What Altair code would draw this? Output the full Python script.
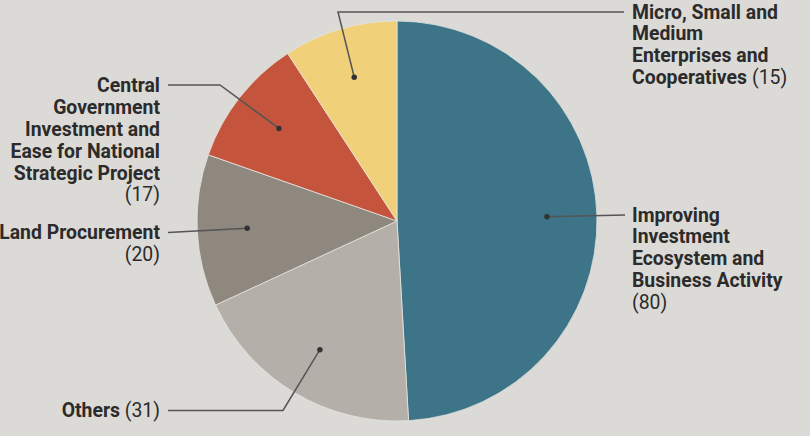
import math
import altair as alt
import pandas as pd

# ---- data ----
categories = [
    "Improving Investment Ecosystem and Business Activity",
    "Others",
    "Land Procurement",
    "Central Government Investment and Ease for National Strategic Project",
    "Micro, Small and Medium Enterprises and Cooperatives",
]
values = [80, 31, 20, 17, 15]
colors = ["#3d7487", "#b4afa9", "#8e887e", "#c4553c", "#f0d078"]
name_lines = [
    ["Improving", "Investment", "Ecosystem and", "Business Activity"],
    ["Others"],
    ["Land Procurement"],
    ["Central", "Government", "Investment and", "Ease for National", "Strategic Project"],
    ["Micro, Small and", "Medium", "Enterprises and", "Cooperatives"],
]

# ---- layout (pixels) ----
W, H = 810, 436
CX, CY, R = 397, 221, 200
DOT_R = 150
LH = 21.8
FS = 19.4
layout = [
    dict(side="right", ax=632, y0=221.5, val="own", elbow=None, end=(625, 215)),
    dict(side="left", ax=160, y0=416.5, val="same", name_x=120, elbow=(283, 410.5), end=(168, 410.5)),
    dict(side="left", ax=160, y0=239, val="own", elbow=None, end=(168, 232.5)),
    dict(side="left", ax=160, y0=92.3, val="own", elbow=(220, 85), end=(168, 85)),
    dict(side="right", ax=632, y0=18.5, val="same", value_x=752, elbow=(338, 12), end=(624, 12)),
]

total = sum(values)
pie_df = pd.DataFrame({"category": categories, "value": values, "idx": range(len(values))})

dots, lines, texts = [], [], []
cum = 0
for i, (cat, v) in enumerate(zip(categories, values)):
    mid = (cum + v / 2) / total * 2 * math.pi
    cum += v
    dx = CX + DOT_R * math.sin(mid)
    dy = CY - DOT_R * math.cos(mid)
    dots.append(dict(category=cat, x=dx, y=dy))
    L = layout[i]
    pts = [(dx, dy)]
    if L["elbow"]:
        pts.append(L["elbow"])
    pts.append(L["end"])
    for k, (px, py) in enumerate(pts):
        lines.append(dict(category=cat, seq=k, x=px, y=py))
    nl = name_lines[i]
    align = "left" if L["side"] == "right" else "right"
    for j, t in enumerate(nl):
        y = L["y0"] + j * LH
        x = L["ax"]
        if L["val"] == "same" and j == len(nl) - 1 and L["side"] == "left":
            x = L["name_x"]
        texts.append(dict(text=t, x=x, y=y, weight="bold", align=align))
    vtxt = f"({v})"
    if L["val"] == "own":
        texts.append(dict(text=vtxt, x=L["ax"], y=L["y0"] + len(nl) * LH, weight="normal", align=align))
    else:
        y = L["y0"] + (len(nl) - 1) * LH
        if L["side"] == "left":
            texts.append(dict(text=vtxt, x=L["ax"], y=y, weight="normal", align="right"))
        else:
            texts.append(dict(text=vtxt, x=L["value_x"], y=y, weight="normal", align="left"))

dots_df = pd.DataFrame(dots)
lines_df = pd.DataFrame(lines)
texts_df = pd.DataFrame(texts)

xs = alt.Scale(domain=[0, W], range=[0, W], nice=False, zero=False)
ys = alt.Scale(domain=[0, H], range=[0, H], nice=False, zero=False)

pie = alt.Chart(pie_df).mark_arc(radius=R, stroke="#e6e4e0", strokeWidth=0.8).encode(
    theta=alt.Theta("value:Q", stack=True),
    color=alt.Color("category:N", scale=alt.Scale(domain=categories, range=colors), legend=None),
    order=alt.Order("idx:Q"),
    x=alt.value(CX),
    y=alt.value(CY),
)

leader = alt.Chart(lines_df).mark_line(color="#555555", strokeWidth=1.5).encode(
    x=alt.X("x:Q", scale=xs, axis=None),
    y=alt.Y("y:Q", scale=ys, axis=None),
    detail="category:N",
    order="seq:Q",
)

dot = alt.Chart(dots_df).mark_circle(size=30, color="#333333", opacity=1).encode(
    x=alt.X("x:Q", scale=xs, axis=None),
    y=alt.Y("y:Q", scale=ys, axis=None),
)

def text_layer(weight, align):
    return alt.Chart(texts_df).transform_filter(
        (alt.datum.weight == weight) & (alt.datum.align == align)
    ).mark_text(
        font="Roboto", fontSize=FS, fontWeight=weight, align=align,
        baseline="alphabetic", color="#2b2b2b",
    ).encode(
        x=alt.X("x:Q", scale=xs, axis=None),
        y=alt.Y("y:Q", scale=ys, axis=None),
        text="text:N",
    )

chart = alt.layer(
    pie, leader, dot,
    text_layer("bold", "left"), text_layer("bold", "right"),
    text_layer("normal", "left"), text_layer("normal", "right"),
).properties(
    width=W, height=H, background="#dcdad6", padding=0,
    autosize=alt.AutoSizeParams(type="none"),
).configure_view(stroke=None)

chart.save("out.html", embed_options={"renderer": "svg", "actions": False})
